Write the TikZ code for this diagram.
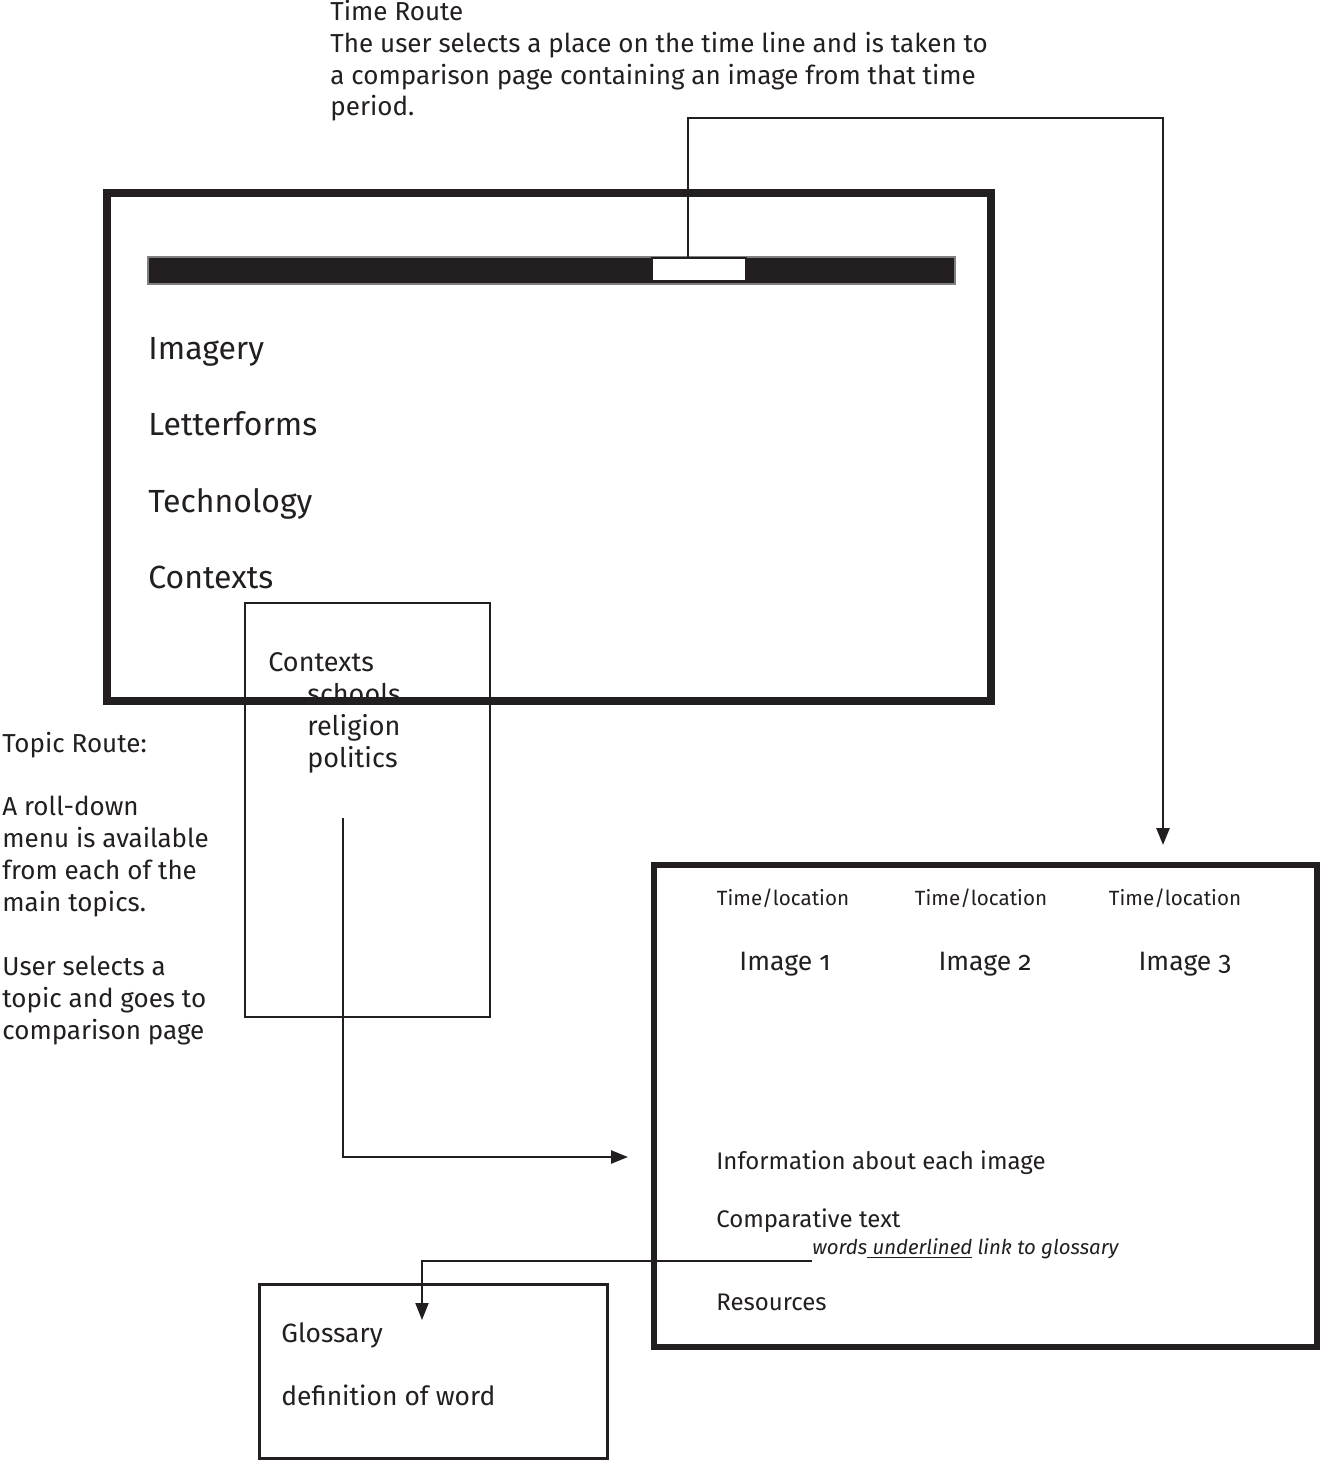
\documentclass[tikz,border=0pt]{standalone}
\usepackage{fontspec}
\setmainfont{Fira Sans}[Numbers=OldStyle]
\usetikzlibrary{arrows.meta}
\definecolor{ink}{HTML}{231F20}
\tikzset{
  note/.style={anchor=base west,inner sep=0pt,text=ink,font=\fontsize{12}{14}\selectfont},
  bignote/.style={note,font=\fontsize{13}{15}\selectfont},
  menuitem/.style={anchor=base west,inner sep=0pt,text=ink,font=\fontsize{16}{19}\selectfont},
  subitem/.style={anchor=base west,inner sep=0pt,text=ink,font=\fontsize{13.5}{16}\selectfont},
  route/.style={draw=ink,line width=1.3pt,-{Triangle[length=8.5pt,width=6.5pt]}},
}
\begin{document}
\begin{tikzpicture}[x=0.5pt,y=-0.5pt]
	\fill[white] (0,0) rectangle (1321,1460);
	\useasboundingbox (0,0) rectangle (1321,1460);

	% time route
	\foreach \txt [count=\i from 0] in {Time Route,
		The user selects a place on the time line and is taken to,
		a comparison page containing an image from that time,
		period.}{
		\node[bignote] (time\i) at (330,21+31.6*\i) {\txt};
	}

	% topic route
	\foreach \y/\txt in {752/Topic Route:, 815/A roll-down, 847/menu is available,
		879/from each of the, 911/main topics., 975/User selects a,
		1007/topic and goes to, 1039/comparison page}{
		\node[bignote] (topic\y) at (2,\y) {\txt};
	}

	% roll-down menu
	\draw[ink,line width=1pt] (245,603) rectangle (490,1017);
	\node[subitem] (ctx) at (268,671) {Contexts};
	\foreach \y/\txt in {703/schools, 735/religion, 767/politics}{
		\node[subitem] (sub\y) at (307,\y) {\txt};
	}
	\draw[ink,line width=1pt] (268,698) -- (397,698);

	% home page
	\draw[ink,line width=4pt] (107,193) rectangle (991,701);
	\draw[fill=ink,draw=gray,line width=0.8pt] (148,257) rectangle (955,284);
	\node[draw=ink,fill=white,line width=1pt,inner sep=0pt,
		minimum width=47pt,minimum height=11.5pt] (slot) at (698.5,269.5) {};
	\foreach \y/\txt in {359/Imagery, 435/Letterforms, 512/Technology, 588/Contexts}{
		\node[menuitem] (menu\y) at (148,\y) {\txt};
	}

	% comparison page
	\draw[ink,line width=3pt] (654,865) rectangle (1317,1347);
	\foreach \x/\n in {783/1, 981/2, 1175/3}{
		\node[note,anchor=base,font=\fontsize{10.3}{12}\selectfont] (loc\n) at (\x,905) {Time/location};
	}
	\foreach \x/\n in {785/1, 985/2, 1185/3}{
		\node[subitem,anchor=base,font=\fontsize{13.3}{16}\selectfont] (img\n) at (\x,970) {Image \n};
	}
	\node[note] (info) at (716,1169) {Information about each image};
	\node[note] (comp) at (716,1227) {Comparative text};
	\node[note,font=\fontsize{10.2}{12}\selectfont\itshape] (link) at (812,1254)
		{words\underline{ underlined} link to glossary};
	\node[note] (res) at (716,1310) {Resources};

	% glossary
	\draw[ink,line width=1.5pt] (259,1284) rectangle (607,1458);
	\node[note,font=\fontsize{13.2}{15}\selectfont] (gloss) at (281,1342) {Glossary};
	\node[note,font=\fontsize{13.2}{15}\selectfont] (defn) at (281,1405) {definition of word};

	% connectors
	\coordinate (tr0) at (688,258);
	\coordinate (tr1) at (1163,845);
	\draw[route] (tr0) -- (688,118) -| (tr1);
	\coordinate (tp0) at (343,818);
	\coordinate (tp1) at (628,1157);
	\draw[route] (tp0) |- (tp1);
	\coordinate (gl0) at (812,1261);
	\coordinate (gl1) at (422,1320);
	\draw[route,line width=1pt] (gl0) -| (gl1);
\end{tikzpicture}
\end{document}
